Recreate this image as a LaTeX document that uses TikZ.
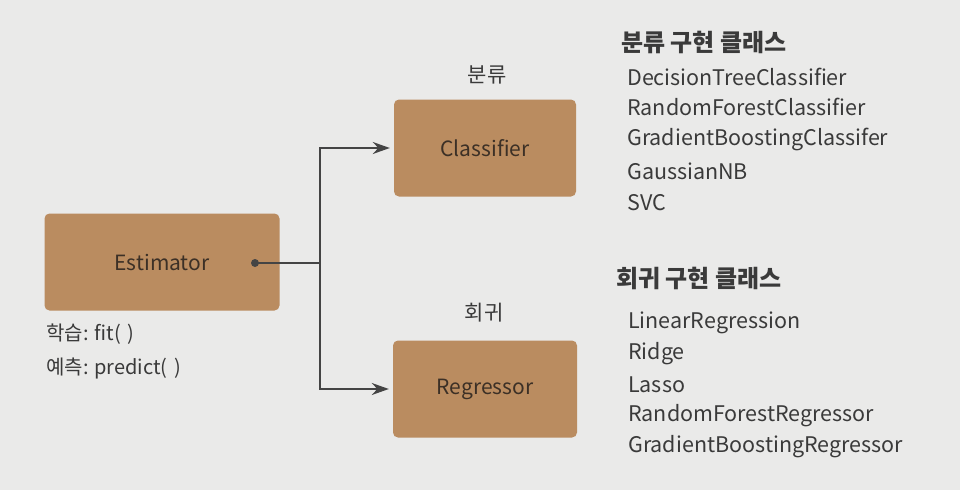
\documentclass[tikz,border=0pt]{standalone}
\usepackage{fontspec}
\setmainfont{Noto Sans CJK KR}
\usetikzlibrary{arrows.meta}
\definecolor{bg}{RGB}{234,234,233}
\definecolor{boxfill}{RGB}{186,140,96}
\definecolor{boxtext}{RGB}{60,48,38}
\definecolor{ink}{RGB}{58,58,58}
\definecolor{lineclr}{RGB}{68,68,68}
\tikzset{
  estbox/.style={fill=boxfill, rounded corners=5pt, minimum width=#1, minimum height=97pt, inner sep=0pt, font=\fontsize{21}{24}\selectfont, text=boxtext},
  lbl/.style={font=\fontsize{21}{24}\selectfont, text=ink, inner sep=0pt},
  head/.style={font=\fontsize{24}{26}\selectfont\bfseries, text=ink, inner sep=0pt, anchor=west},
  item/.style={font=\fontsize{21.5}{24}\selectfont, text=ink, inner sep=0pt, anchor=west},
  conn/.style={draw=lineclr, line width=1.8pt, -{Stealth[length=17pt,width=12pt]}},
}
\begin{document}
\begin{tikzpicture}[x=1pt,y=-1pt]
\fill[bg] (0,0) rectangle (960,490);
\useasboundingbox (0,0) rectangle (960,490);

\node[estbox=235pt] (est) at (162,262) {Estimator};
\node[estbox=182pt] (cls) at (485,148) {Classifier};
\node[estbox=184pt] (reg) at (485,389) {Regressor};

\node[lbl] (lcls) at (487,75) {분류};
\node[lbl] (lreg) at (484,313) {회귀};

\node[lbl, anchor=west, font=\fontsize{20}{22}\selectfont] (fit) at (46,334) {학습: fit(\,\,)};
\node[lbl, anchor=west, font=\fontsize{20}{22}\selectfont] (pred) at (46,368) {예측: predict(\,\,)};

\coordinate (dot) at (255,263);
\coordinate (jn) at (320,263);
\fill[lineclr] (dot) circle (4pt);
\draw[lineclr, line width=1.8pt] (dot) -- (jn);
\draw[conn] (jn) |- ([xshift=-4pt]cls.west);
\draw[conn] (jn) |- ([xshift=-4pt]reg.west);

\node[head] (hcls) at (621,42) {분류 구현 클래스};
\node[item] (c1) at (627,77) {DecisionTreeClassifier};
\node[item] (c2) at (627,107) {RandomForestClassifier};
\node[item] (c3) at (627,139) {GradientBoostingClassifer};
\node[item] (c4) at (627,171) {GaussianNB};
\node[item] (c5) at (627,203) {SVC};

\node[head] (hreg) at (616,278) {회귀 구현 클래스};
\node[item] (r1) at (628,323) {LinearRegression};
\node[item] (r2) at (628,354) {Ridge};
\node[item] (r3) at (628,385) {Lasso};
\node[item] (r4) at (628,416) {RandomForestRegressor};
\node[item] (r5) at (628,447) {GradientBoostingRegressor};
\end{tikzpicture}
\end{document}
